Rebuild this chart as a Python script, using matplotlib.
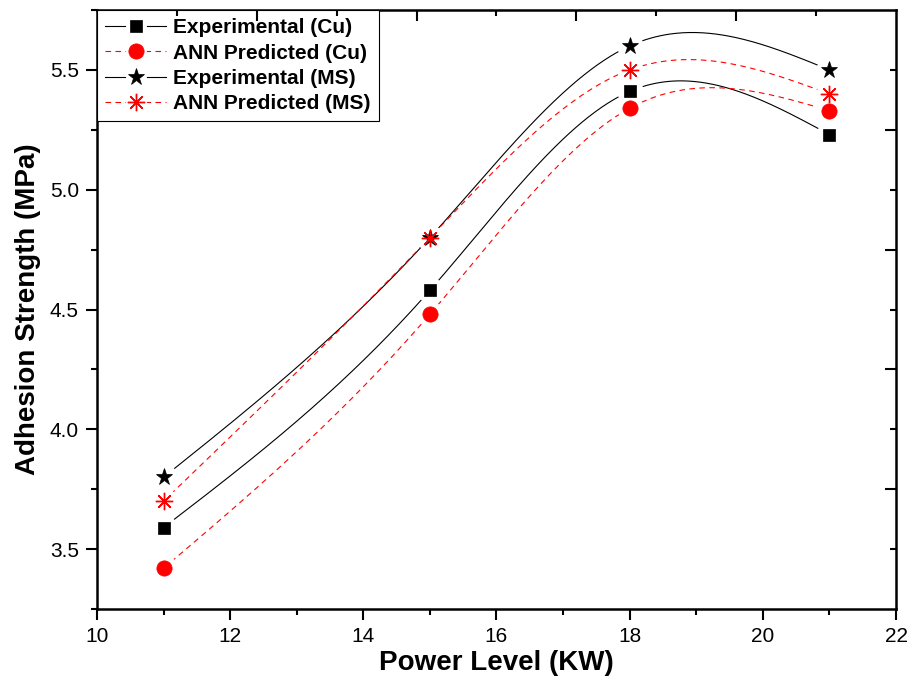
import numpy as np
import matplotlib
matplotlib.use("Agg")
import matplotlib.pyplot as plt
from matplotlib.ticker import MultipleLocator, FixedLocator
from matplotlib.legend_handler import HandlerTuple

plt.rcParams['font.family'] = ['Liberation Sans', 'DejaVu Sans']

# ---- data ----
power = [11, 15, 18, 21]
exp_cu = [3.59, 4.58, 5.41, 5.23]
ann_cu = [3.42, 4.48, 5.34, 5.33]
exp_ms = [3.80, 4.80, 5.60, 5.50]
ann_ms = [3.70, 4.80, 5.50, 5.40]
labels = ["Experimental (Cu)", "ANN Predicted (Cu)", "Experimental (MS)", "ANN Predicted (MS)"]


def natural_spline(x, y, xs):
    x = np.asarray(x, float)
    y = np.asarray(y, float)
    n = len(x)
    h = np.diff(x)
    A = np.zeros((n, n))
    b = np.zeros(n)
    A[0, 0] = 1
    A[-1, -1] = 1
    for i in range(1, n - 1):
        A[i, i - 1] = h[i - 1]
        A[i, i] = 2 * (h[i - 1] + h[i])
        A[i, i + 1] = h[i]
        b[i] = 6 * ((y[i + 1] - y[i]) / h[i] - (y[i] - y[i - 1]) / h[i - 1])
    M = np.linalg.solve(A, b)
    out = np.empty_like(xs)
    for k, t in enumerate(xs):
        i = min(max(np.searchsorted(x, t) - 1, 0), n - 2)
        dx1 = x[i + 1] - t
        dx0 = t - x[i]
        out[k] = (M[i] * dx1 ** 3 + M[i + 1] * dx0 ** 3) / (6 * h[i]) \
            + (y[i] / h[i] - M[i] * h[i] / 6) * dx1 \
            + (y[i + 1] / h[i] - M[i + 1] * h[i] / 6) * dx0
    return out


fig = plt.figure(figsize=(9.13, 6.83), dpi=100)
ax = fig.add_axes([0.1062, 0.1083, 0.9814 - 0.1062, 0.9854 - 0.1083])

dash = (0, (5, 4))
series = [
    (exp_cu, 'black', '-', 's', 9.0, 'black', 'black'),
    (ann_cu, 'red', dash, 'o', 11.0, 'red', 'red'),
    (exp_ms, 'black', '-', '*', 12.5, 'black', 'black'),
    (ann_ms, 'red', dash, (8, 2, 0), 12.5, 'red', 'red'),
]

xs = np.linspace(min(power), max(power), 400)
handles = []
for vals, col, ls, mk, ms, mfc, mec in series:
    ys = natural_spline(power, vals, xs)
    ln, = ax.plot(xs, ys, color=col, linestyle=ls, linewidth=0.8, zorder=2)
    halo, = ax.plot(power, vals, linestyle='none', marker='o', markersize=19,
                    markerfacecolor='white', markeredgecolor='none', zorder=3)
    mkr, = ax.plot(power, vals, linestyle='none', marker=mk, markersize=ms,
                   markerfacecolor=mfc, markeredgecolor=mec,
                   markeredgewidth=1.0 if mk == (8, 2, 0) else 0.5, zorder=4)
    # legend proxy halo slightly smaller
    lhalo, = ax.plot([], [], linestyle='none', marker='o', markersize=15,
                     markerfacecolor='white', markeredgecolor='none')
    handles.append((ln, lhalo, mkr))

ax.set_xlim(10, 22)
ax.set_ylim(3.25, 5.75)
ax.xaxis.set_major_locator(MultipleLocator(2))
ax.xaxis.set_minor_locator(MultipleLocator(1))
ax.yaxis.set_major_locator(MultipleLocator(0.5))
ax.yaxis.set_minor_locator(MultipleLocator(0.25))
ax.yaxis.set_major_formatter(matplotlib.ticker.FormatStrFormatter('%.1f'))
ax.tick_params(which='major', direction='out', length=8, width=1.5, labelsize=15, pad=5)
ax.tick_params(which='minor', direction='out', length=4, width=1.5)
ax.tick_params(top=False, right=False)
for s in ax.spines.values():
    s.set_linewidth(1.8)

ax.set_xlabel("Power Level (KW)", fontsize=20, fontweight='bold', labelpad=3)
ax.set_ylabel("Adhesion Strength (MPa)", fontsize=20, fontweight='bold', labelpad=6)

# top axis (independent inward ticks)
axt = ax.twiny()
axt.set_xlim(0, 1)
axt.xaxis.set_major_locator(FixedLocator([0.2, 0.4, 0.6, 0.8]))
axt.xaxis.set_minor_locator(FixedLocator([0.1, 0.3, 0.5, 0.7, 0.9]))
axt.tick_params(axis='x', which='major', direction='in', length=8, width=1.5, labeltop=False)
axt.tick_params(axis='x', which='minor', direction='in', length=4, width=1.5)
for s in axt.spines.values():
    s.set_visible(False)

# right axis (independent inward ticks)
axr = ax.twinx()
axr.set_ylim(3.25, 5.75)
axr.yaxis.set_major_locator(FixedLocator([3.75, 4.25, 4.75, 5.25]))
axr.yaxis.set_minor_locator(FixedLocator([3.5, 4.0, 4.5, 5.0, 5.5]))
axr.tick_params(axis='y', which='major', direction='in', length=8, width=1.5, labelright=False)
axr.tick_params(axis='y', which='minor', direction='in', length=4, width=1.5)
for s in axr.spines.values():
    s.set_visible(False)

leg = ax.legend(handles, labels, handler_map={tuple: HandlerTuple(ndivide=1, pad=0)},
                loc='upper left', bbox_to_anchor=(0, 1), borderaxespad=0,
                prop={'size': 15, 'weight': 'bold'}, fancybox=False, framealpha=1,
                edgecolor='black', borderpad=0.4, handlelength=2.9,
                handletextpad=0.35, labelspacing=0.3)
leg.get_frame().set_linewidth(0.8)
leg.set_zorder(10)

fig.savefig("out.png", dpi=100)
